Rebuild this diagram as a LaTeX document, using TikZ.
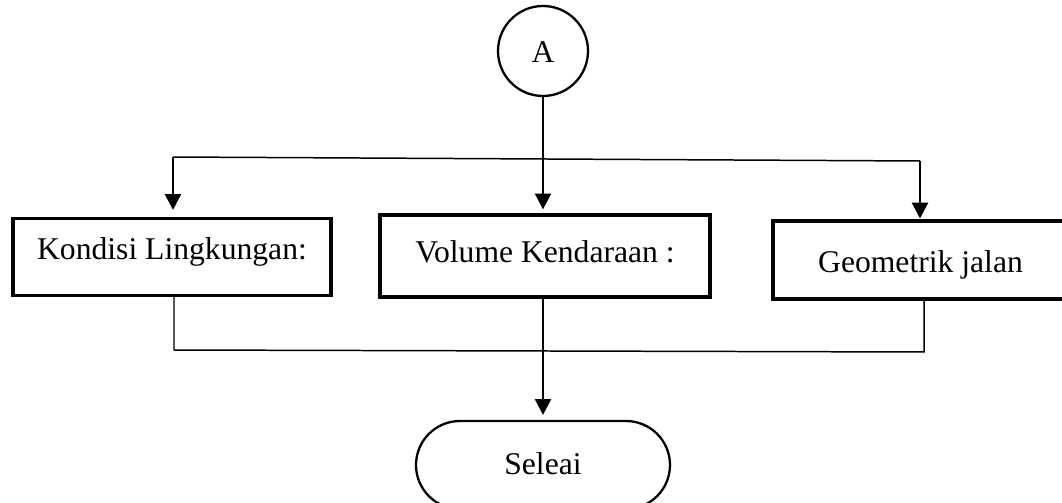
\documentclass[tikz,border=0pt]{standalone}
\usepackage{fontspec}
\setmainfont{Liberation Serif}
\usetikzlibrary{arrows.meta,shapes.misc}
\tikzset{
  kotak/.style={draw, line width=1.8pt, inner sep=0pt, text height=12.6pt},
  panah/.style={line width=1.6pt, -{Triangle[width=9pt,length=9pt]}},
  garis/.style={line width=0.85pt}
}
\begin{document}
\begin{tikzpicture}[font=\fontsize{18}{22}\selectfont]
\useasboundingbox (0,0) rectangle (21.24,10.04);
\node[circle, draw, line width=1.3pt, minimum size=1.8cm, inner sep=0pt, text height=13.6pt, text depth=0pt] (A) at (10.86,9.02){A};
\node[kotak, minimum width=6.36cm, minimum height=1.54cm, text depth=9.9pt] (kondisi) at (3.44,4.90){Kondisi Lingkungan:};
\node[kotak, minimum width=6.60cm, minimum height=1.64cm, text depth=5.4pt] (volume) at (10.90,4.92){Volume Kendaraan :};
\node[kotak, minimum width=5.90cm, minimum height=1.56cm, text height=14.4pt, text depth=0pt] (geometrik) at (18.41,4.84){Geometrik jalan};
\node[rounded rectangle, draw, line width=1.3pt, minimum width=5.08cm, minimum height=1.76cm, inner sep=0pt, text height=11.3pt, text depth=0pt] (seleai) at (10.86,0.74){Seleai};
\coordinate (cabKiri) at (3.46,6.90);
\coordinate (cabKanan) at (18.40,6.82);
\coordinate (gabKiri) at (3.48,3.04);
\coordinate (gabKanan) at (18.48,3.00);
\draw[panah, shorten >=2.3pt](A.south) -- (A.south |- volume.north);
\draw[garis](cabKiri) -- (cabKanan);
\draw[panah, shorten >=4pt](cabKiri) -- (cabKiri |- kondisi.north);
\draw[panah, shorten >=0.5pt](cabKanan) -- (cabKanan |- geometrik.north);
\draw[garis](gabKiri |- kondisi.south) -- (gabKiri) -- (gabKanan) -- (gabKanan |- geometrik.south);
\draw[panah, shorten >=2.8pt](volume.south -| seleai.north) -- (seleai.north);
\end{tikzpicture}
\end{document}
